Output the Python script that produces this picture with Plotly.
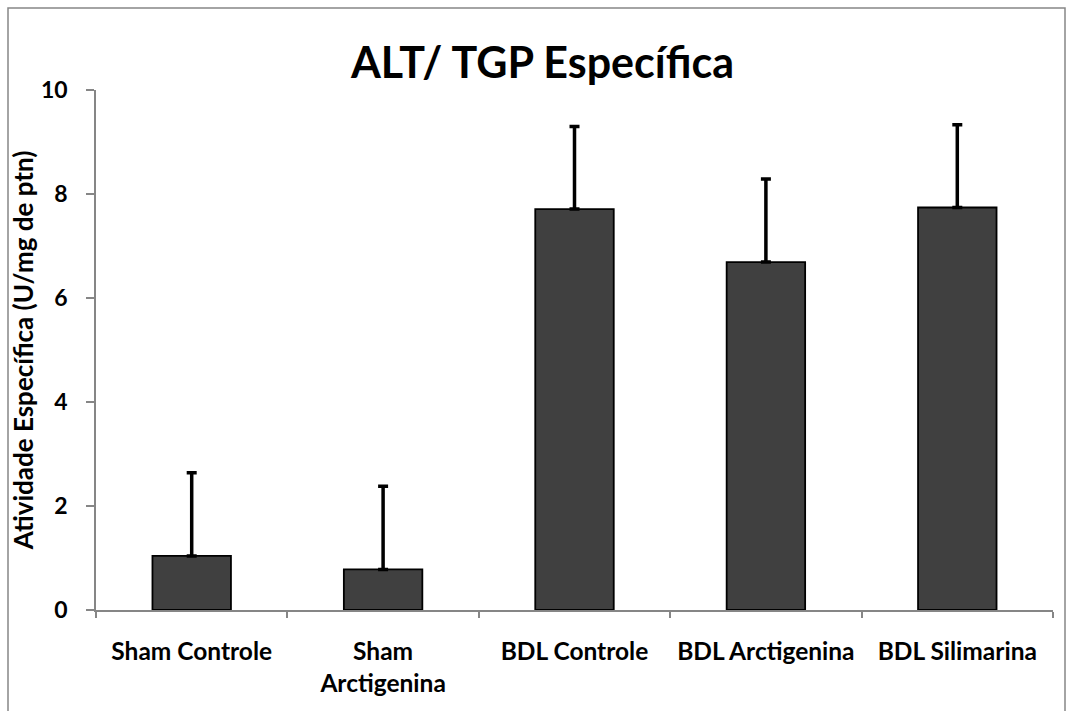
import plotly.graph_objects as go

# Specific ALT/TGP activity per experimental group
groups = ["Sham Controle", "Sham<br>Arctigenina", "BDL Controle", "BDL Arctigenina", "BDL Silimarina"]
activity = [1.04, 0.78, 7.71, 6.69, 7.74]
error_up = [1.60, 1.60, 1.59, 1.60, 1.59]

y_ticks = [0, 2, 4, 6, 8, 10]
y_tick_text = ["0", "2", "4", "6", "8", "10"]

FONT = "Lato"
AXIS_GREY = "#868686"

fig = go.Figure(
    go.Bar(
        x=groups,
        y=activity,
        marker=dict(color="#404040", line=dict(color="black", width=1.8)),
        error_y=dict(type="data", symmetric=False, array=error_up, arrayminus=[0] * len(error_up),
                     color="black", thickness=3.5, width=5),
        width=0.41,
    )
)

fig.update_layout(
    width=1070,
    height=711,
    margin=dict(l=96, r=17, t=90, b=101),
    paper_bgcolor="white",
    plot_bgcolor="white",
    showlegend=False,
    font=dict(family=FONT, color="black"),
    title=dict(
        text="<b>ALT/ TGP Específica</b>",
        x=0.507, xanchor="center",
        y=0.912, yanchor="middle",
        font=dict(family=FONT, size=43, color="black"),
    ),
    xaxis=dict(
        showline=True, linecolor=AXIS_GREY, linewidth=1.5,
        ticks="outside", tickson="boundaries", ticklen=6, tickwidth=1.5, tickcolor=AXIS_GREY,
        tickfont=dict(family=FONT, size=24.5, color="black", weight="bold"),
        ticklabelstandoff=19,
        showgrid=False, zeroline=False,
    ),
    yaxis=dict(
        range=[0, 10],
        tickvals=y_ticks, ticktext=y_tick_text,
        showline=True, linecolor=AXIS_GREY, linewidth=1.5,
        ticks="outside", ticklen=8, tickwidth=1.5, tickcolor=AXIS_GREY,
        tickfont=dict(family=FONT, size=23, color="black", weight="bold"),
        ticklabelstandoff=14,
        showgrid=False, zeroline=False,
        title=dict(text="Atividade Específica (U/mg de ptn)",
                   font=dict(family=FONT, size=26, color="black", weight="bold"), standoff=0),
    ),
)

# Chart frame around the whole figure
fig.add_shape(
    type="rect", xref="paper", yref="paper",
    x0=(8 - 96) / 957, x1=(1065 - 96) / 957,
    y0=-0.25, y1=(610 - 8) / 520,
    line=dict(color=AXIS_GREY, width=1.5), fillcolor="rgba(0,0,0,0)", layer="below",
)

fig.write_html("out.html")
